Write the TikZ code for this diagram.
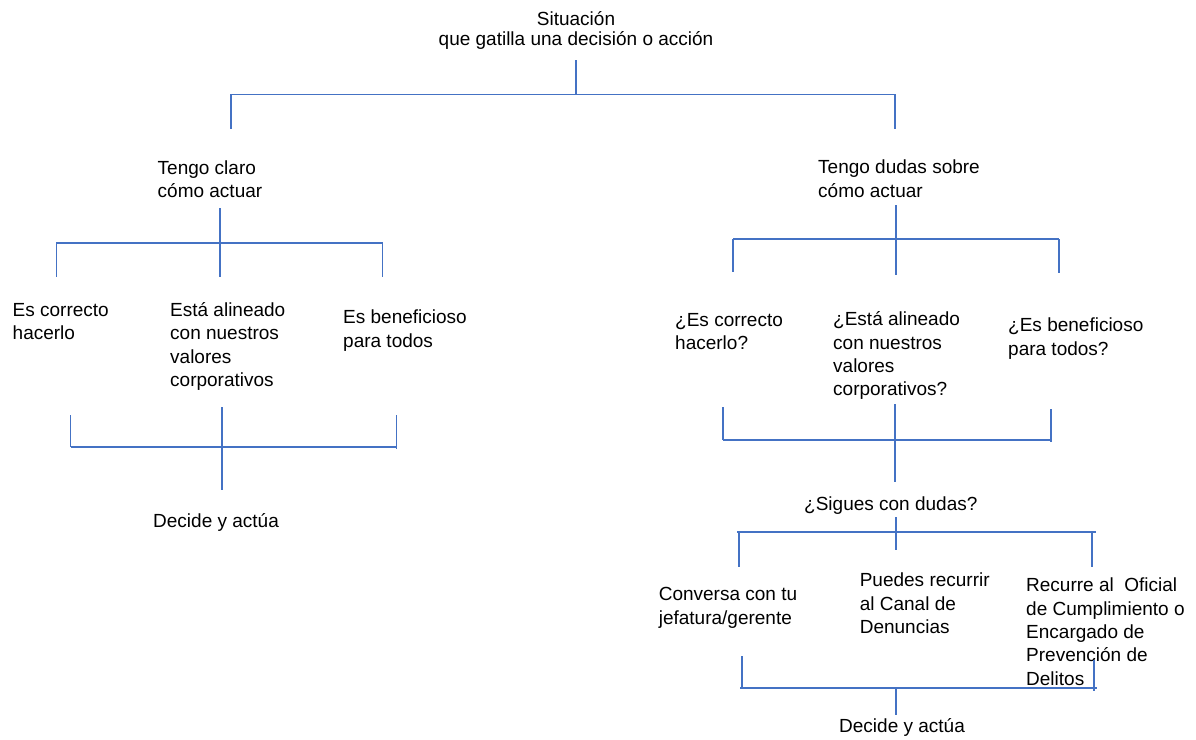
\documentclass[tikz,border=0pt]{standalone}
\usepackage{fontspec}
\setmainfont{Liberation Sans}
\definecolor{linecol}{RGB}{68,114,196}
\newcommand\myst{\rule{0pt}{20pt}}
\begin{document}
\begin{tikzpicture}[x=1pt,y=-1pt,
  ln/.style={draw=linecol, line width=1.4pt},
  txt/.style={inner sep=0pt, anchor=north west, align=left, font=\fontsize{19}{23.3}\selectfont},
  ctxt/.style={inner sep=0pt, anchor=north, align=center, font=\fontsize{19}{19.5}\selectfont}]
\useasboundingbox (0,0) rectangle (1196,739);
% texts (north = baseline - 20)
\node[ctxt] (sit) at (576,5.5) {\myst Situación\\que gatilla una decisión o acción};
\node[txt] (claro) at (157.5,154.3) {\myst Tengo claro\\cómo actuar};
\node[txt] (c1) at (12.5,296.3) {\myst Es correcto\\hacerlo};
\node[txt] (c2) at (170,296.3) {\myst Está alineado\\con nuestros\\valores\\corporativos};
\node[txt] (c3) at (343,303.6) {\myst Es beneficioso\\para todos};
\node[txt] (dl) at (153,507) {\myst Decide y actúa};
\node[txt] (dudas) at (818,153.6) {\myst Tengo dudas sobre\\cómo actuar};
\node[txt] (d1) at (675,306.3) {\myst ¿Es correcto\\hacerlo?};
\node[txt] (d2) at (833,305.6) {\myst ¿Está alineado\\con nuestros\\valores\\corporativos?};
\node[txt] (d3) at (1008,311.6) {\myst ¿Es beneficioso\\para todos?};
\node[txt] (sig) at (804,490.6) {\myst ¿Sigues con dudas?};
\node[txt] (o1) at (658.6,580.6) {\myst Conversa con tu\\jefatura/gerente};
\node[txt] (o2) at (859.6,566.6) {\myst Puedes recurrir\\al Canal de\\Denuncias};
\node[txt] (o3) at (1026,571.6) {\myst Recurre al\ \ Oficial\\de Cumplimiento o\\Encargado de\\Prevención de\\Delitos};
\node[txt] (dr) at (839,712.6) {\myst Decide y actúa};
% top split
\coordinate (t0) at (576,60); \coordinate (t1) at (576,94.3);
\coordinate (tl) at (231,94.3); \coordinate (tr) at (895,94.3);
\coordinate (tld) at (231,129); \coordinate (trd) at (895,129);
\draw[ln] (t0) -- (t1);
\draw[ln] (tl) -- (tr);
\draw[ln] (tl) -- (tld);
\draw[ln] (tr) -- (trd);
% left split
\coordinate (l0) at (220,208); \coordinate (l1) at (220,277);
\coordinate (ll) at (56.3,243); \coordinate (lr) at (382.7,243);
\coordinate (lld) at (56.3,277); \coordinate (lrd) at (382.7,277);
\draw[ln] (l0) -- (l1);
\draw[ln] (ll) -- (lr);
\draw[ln] (ll) -- (lld);
\draw[ln] (lr) -- (lrd);
% left join
\coordinate (ja) at (70.7,415); \coordinate (jb) at (70.7,447);
\coordinate (jc) at (396.7,415); \coordinate (jd) at (396.7,449);
\coordinate (je) at (396.7,447);
\coordinate (jm0) at (222,407); \coordinate (jm1) at (222,490);
\draw[ln] (ja) -- (jb);
\draw[ln] (jc) -- (jd);
\draw[ln] (jb) -- (je);
\draw[ln] (jm0) -- (jm1);
% right split
\coordinate (r0) at (896,205); \coordinate (r1) at (896,275);
\coordinate (rl) at (733,239); \coordinate (rr) at (1059,239);
\coordinate (rld) at (733,272); \coordinate (rrd) at (1059,273);
\draw[ln] (r0) -- (r1);
\draw[ln] (rl) -- (rr);
\draw[ln] (rl) -- (rld);
\draw[ln] (rr) -- (rrd);
% right join
\coordinate (ka) at (723,407); \coordinate (kb) at (723,440);
\coordinate (kc) at (1051,409); \coordinate (kd) at (1051,442);
\coordinate (ke) at (1051,440);
\coordinate (km0) at (895,404); \coordinate (km1) at (895,482);
\draw[ln] (ka) -- (kb);
\draw[ln] (kc) -- (kd);
\draw[ln] (kb) -- (ke);
\draw[ln] (km0) -- (km1);
% sigues split
\coordinate (s0) at (896,517); \coordinate (s1) at (896,550);
\coordinate (sl) at (737,532); \coordinate (sr) at (1096,532);
\coordinate (sla) at (739,532); \coordinate (sld) at (739,567);
\coordinate (sra) at (1092,532); \coordinate (srd) at (1092,567);
\draw[ln] (s0) -- (s1);
\draw[ln] (sl) -- (sr);
\draw[ln] (sla) -- (sld);
\draw[ln] (sra) -- (srd);
% bottom join
\coordinate (ba) at (742,656); \coordinate (bb) at (742,688);
\coordinate (bc) at (1094,660); \coordinate (bd) at (1094,691);
\coordinate (bl) at (740,688); \coordinate (br) at (1097,688);
\coordinate (bm0) at (896,688); \coordinate (bm1) at (896,715);
\draw[ln] (ba) -- (bb);
\draw[ln] (bc) -- (bd);
\draw[ln] (bl) -- (br);
\draw[ln] (bm0) -- (bm1);
\end{tikzpicture}
\end{document}
